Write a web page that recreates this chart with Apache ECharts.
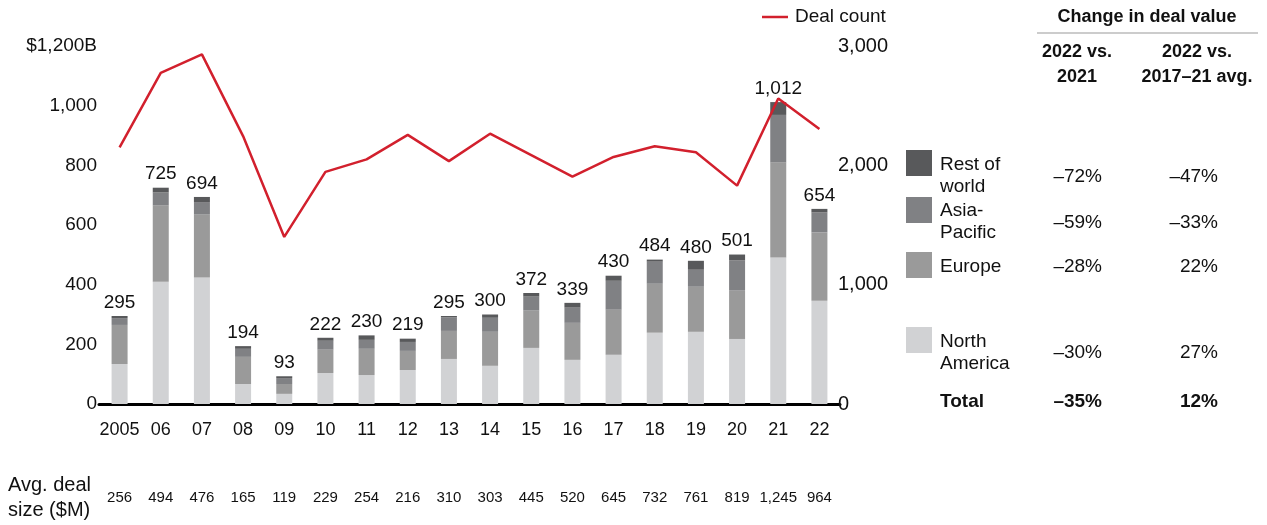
<!DOCTYPE html>
<html>
<head>
<meta charset="utf-8">
<script src="https://cdn.jsdelivr.net/npm/echarts@6/dist/echarts.min.js"></script>
<style>
  html, body { margin: 0; padding: 0; background: #fff; }
  #chart { width: 1267px; height: 525px; }
</style>
</head>
<body>
<div id="chart"></div>
<script>
// years on the x axis
var years = ['2005', '06', '07', '08', '09', '10', '11', '12', '13', '14', '15', '16', '17', '18', '19', '20', '21', '22'];

// deal value by region, $B
var northAmerica = [134, 410, 424, 67, 34, 104, 97, 114, 151, 128, 188, 148, 165, 239, 242, 218, 491, 346];
var europe = [131, 256, 211, 91, 33, 78, 88, 64, 94, 114, 125, 124, 151, 164, 151, 162, 319, 229];
var asiaPacific = [23, 43, 42, 27, 20, 30, 30, 30, 45, 47, 47, 51, 97, 74, 57, 101, 159, 67];
var restOfWorld = [7, 16, 17, 9, 6, 10, 15, 11, 5, 11, 12, 16, 17, 7, 30, 20, 43, 12];
var totals = [295, 725, 694, 194, 93, 222, 230, 219, 295, 300, 372, 339, 430, 484, 480, 501, 1012, 654];

// deal count (right axis)
var dealCount = [2150, 2775, 2930, 2245, 1400, 1945, 2050, 2255, 2035, 2265, 2085, 1905, 2070, 2160, 2110, 1830, 2560, 2305];

// avg deal size, $M
var avgSize = ['256', '494', '476', '165', '119', '229', '254', '216', '310', '303', '445', '520', '645', '732', '761', '819', '1,245', '964'];

// change in deal value table
var chgVs2021 = ['–72%', '–59%', '–28%', '–30%', '–35%'];
var chgVsAvg = ['–47%', '–33%', '22%', '27%', '12%'];

var colors = {
  na: '#d1d2d4',
  eu: '#9a9a9a',
  ap: '#808184',
  row: '#58595b',
  line: '#d2202d'
};

var FONT = 'Liberation Sans, Arial, sans-serif';

function fmt(v) {
  return String(v).replace(/\B(?=(\d{3})+(?!\d))/g, ',');
}

var chart = echarts.init(document.getElementById('chart'));

var graphics = [];

// deal count legend
graphics.push({ type: 'line', shape: { x1: 762, y1: 17, x2: 788, y2: 17 }, style: { stroke: colors.line, lineWidth: 2.5 } });
graphics.push({ type: 'text', x: 795, y: 17, style: { text: 'Deal count', font: '19px ' + FONT, fill: '#111', verticalAlign: 'middle' } });

// avg deal size caption
graphics.push({ type: 'text', x: 8, y: 498, style: { text: 'Avg. deal\nsize ($M)', font: '20px ' + FONT, fill: '#111', verticalAlign: 'middle', lineHeight: 25 } });

// table header
graphics.push({ type: 'text', x: 1147, y: 17, style: { text: 'Change in deal value', font: 'bold 18px ' + FONT, fill: '#111', align: 'center', verticalAlign: 'middle' } });
graphics.push({ type: 'line', shape: { x1: 1037, y1: 33, x2: 1258, y2: 33 }, style: { stroke: '#bbb', lineWidth: 1.5 } });
graphics.push({ type: 'text', x: 1077, y: 65, style: { text: '2022 vs.\n2021', font: 'bold 18px ' + FONT, fill: '#111', align: 'center', verticalAlign: 'middle', lineHeight: 25 } });
graphics.push({ type: 'text', x: 1197, y: 65, style: { text: '2022 vs.\n2017–21 avg.', font: 'bold 18px ' + FONT, fill: '#111', align: 'center', verticalAlign: 'middle', lineHeight: 25 } });

// region legend rows
var legendRows = [
  { name: 'Rest of\nworld', color: colors.row, box: 150, text: 176, val: 177 },
  { name: 'Asia-\nPacific', color: colors.ap, box: 197, text: 222, val: 223 },
  { name: 'Europe', color: colors.eu, box: 252, text: 267, val: 267 },
  { name: 'North\nAmerica', color: colors.na, box: 327, text: 353, val: 353 },
  { name: 'Total', color: null, box: 0, text: 402, val: 402 }
];
legendRows.forEach(function (r, i) {
  var bold = r.color ? '' : 'bold ';
  if (r.color) {
    graphics.push({ type: 'rect', shape: { x: 906, y: r.box, width: 26, height: 26 }, style: { fill: r.color } });
  }
  graphics.push({ type: 'text', x: 940, y: r.text, style: { text: r.name, font: bold + '19px ' + FONT, fill: '#111', verticalAlign: 'middle', lineHeight: 22 } });
  graphics.push({ type: 'text', x: 1102, y: r.val, style: { text: chgVs2021[i], font: bold + '19px ' + FONT, fill: '#111', align: 'right', verticalAlign: 'middle' } });
  graphics.push({ type: 'text', x: 1218, y: r.val, style: { text: chgVsAvg[i], font: bold + '19px ' + FONT, fill: '#111', align: 'right', verticalAlign: 'middle' } });
});

function barSeries(name, data, color) {
  return {
    name: name,
    type: 'bar',
    stack: 'value',
    barWidth: 16,
    data: data,
    itemStyle: { color: color },
    emphasis: { disabled: true }
  };
}

var rowSeries = barSeries('Rest of world', restOfWorld, colors.row);
rowSeries.label = {
  show: true,
  position: 'top',
  distance: 4,
  fontFamily: FONT,
  fontSize: 19,
  color: '#111',
  formatter: function (p) { return fmt(totals[p.dataIndex]); }
};

chart.setOption({
  animation: false,
  textStyle: { fontFamily: FONT },
  grid: { left: 99, top: 46, width: 741, height: 358 },
  graphic: graphics,
  xAxis: [
    {
      type: 'category',
      data: years,
      axisLine: { lineStyle: { color: '#000', width: 3 } },
      axisTick: { show: false },
      axisLabel: { color: '#111', fontSize: 18, margin: 17, interval: 0 }
    },
    {
      type: 'category',
      data: avgSize,
      position: 'bottom',
      offset: 86,
      axisLine: { show: false },
      axisTick: { show: false },
      axisLabel: { color: '#111', fontSize: 15, margin: 0, interval: 0 }
    }
  ],
  yAxis: [
    {
      type: 'value',
      min: 0,
      max: 1200,
      interval: 200,
      splitLine: { show: false },
      axisLine: { show: false },
      axisTick: { show: false },
      axisLabel: {
        color: '#111',
        fontSize: 19,
        margin: 2,
        formatter: function (v) { return v === 1200 ? '$1,200B' : fmt(v); }
      }
    },
    {
      type: 'value',
      min: 0,
      max: 3000,
      interval: 1000,
      position: 'right',
      splitLine: { show: false },
      axisLine: { show: false },
      axisTick: { show: false },
      axisLabel: { color: '#111', fontSize: 20, margin: -2, formatter: function (v) { return fmt(v); } }
    }
  ],
  series: [
    barSeries('North America', northAmerica, colors.na),
    barSeries('Europe', europe, colors.eu),
    barSeries('Asia-Pacific', asiaPacific, colors.ap),
    rowSeries,
    {
      name: 'Deal count',
      type: 'line',
      yAxisIndex: 1,
      data: dealCount,
      symbol: 'none',
      lineStyle: { color: colors.line, width: 2.5 },
      z: 5
    }
  ]
});
</script>
</body>
</html>
